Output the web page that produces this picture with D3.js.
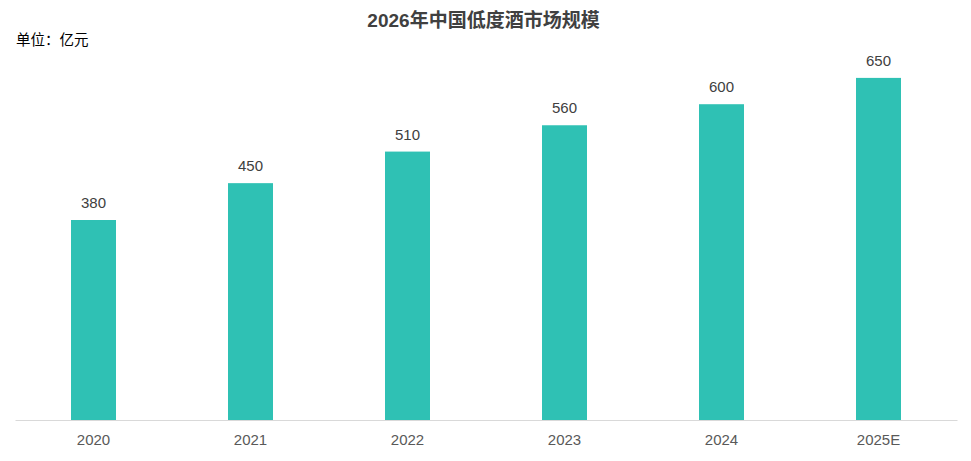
<!DOCTYPE html>
<html>
<head>
<meta charset="utf-8">
<script src="https://cdn.jsdelivr.net/npm/d3@7"></script>
<style>
  body { margin: 0; background: #fff; }
  svg { display: block; font-family: "Liberation Sans", Arial, "Noto Sans CJK SC", sans-serif; }
</style>
</head>
<body>
<svg id="svg" width="971" height="461"></svg>
<script>
var years = ["2020", "2021", "2022", "2023", "2024", "2025E"];
var values = [380, 450, 510, 560, 600, 650];

var width = 971, height = 461;
var left = 15, right = 957, baseY = 420;
var barW = 45;
var svg = d3.select('#svg');

var x = d3.scaleBand().domain(years).range([left, right]).padding(0);
var y = d3.scaleLinear().domain([0, 700]).range([baseY, baseY - 700 * 200 / 380]);

// title
svg.append("text")
  .attr("x", width / 2 - 2)
  .attr("y", 27)
  .attr("text-anchor", "middle")
  .style("font-size", "19px")
  .style("font-weight", "bold")
  .style("fill", "#404040")
  .text("2026年中国低度酒市场规模");

svg.append("text")
  .attr("x", 16)
  .attr("y", 45)
  .style("font-size", "14.5px")
  .style("fill", "#000")
  .text("单位：亿元");

// bars
svg.selectAll("rect.bar")
  .data(values)
  .enter().append("rect")
  .attr("class", "bar")
  .attr("x", function(d, i) { return x(years[i]) + x.bandwidth() / 2 - barW / 2; })
  .attr("y", function(d) { return y(d); })
  .attr("width", barW)
  .attr("height", function(d) { return y(0) - y(d); })
  .style("fill", "#2fc1b4");

// value labels
svg.selectAll("text.val")
  .data(values)
  .enter().append("text")
  .attr("class", "val")
  .attr("x", function(d, i) { return x(years[i]) + x.bandwidth() / 2; })
  .attr("y", function(d) { return y(d) - 12; })
  .attr("text-anchor", "middle")
  .style("font-size", "15px")
  .style("fill", "#404040")
  .text(function(d) { return d; });

// x axis
var xAxis = svg.append("g")
  .attr("transform", "translate(0," + baseY + ")")
  .call(d3.axisBottom(x).tickSize(0).tickPadding(14));
xAxis.select(".domain").attr("stroke", "#d9d9d9").attr("stroke-width", 1);
xAxis.selectAll("text")
  .style("font-size", "15px")
  .style("fill", "#595959")
  .style("font-family", "\"Liberation Sans\", Arial, sans-serif");
</script>
</body>
</html>
